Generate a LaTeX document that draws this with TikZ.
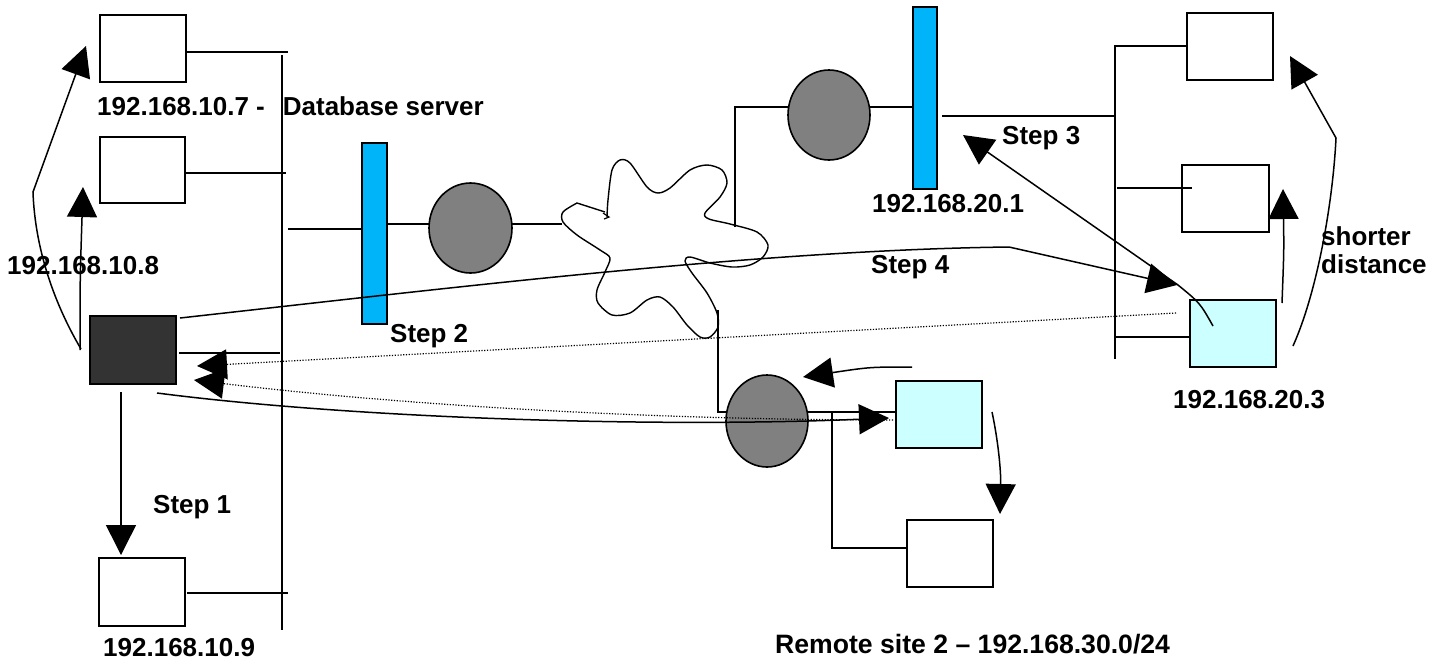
\documentclass[tikz,border=0pt]{standalone}
\usepackage{fontspec}
\setmainfont{Liberation Sans}
\usetikzlibrary{arrows.meta,shapes.geometric}
\definecolor{barblue}{RGB}{0,180,250}
\definecolor{hostcyan}{RGB}{204,255,255}
\definecolor{routergray}{RGB}{128,128,128}
\definecolor{hostdark}{RGB}{51,51,51}

\begin{document}
\begin{tikzpicture}[x=1pt,y=-1pt,
  wire/.style={line width=1.5pt},
  host/.style={draw, line width=1.6pt, rectangle, inner sep=0pt, outer sep=0pt, fill=white},
  router/.style={draw, line width=1.6pt, ellipse, fill=routergray, inner sep=0pt, outer sep=0pt},
  fw/.style={draw, line width=1.6pt, fill=barblue, inner sep=0pt, outer sep=0pt, minimum height=181pt},
  flow/.style={line width=1.5pt, -{Triangle[length=30pt,width=30pt]}},
  trace/.style={line width=1.2pt, dash pattern=on 1.2pt off 1.6pt, -{Triangle[length=30pt,width=30pt]}},
  lbl/.style={font=\bfseries\fontsize{26}{30}\selectfont, inner sep=0pt, anchor=base west}]
\useasboundingbox (0,0) rectangle (1443,662);

% ---------- local site ----------
\node[host, minimum width=86pt, minimum height=67pt] (bA) at (143,48.5) {};
\node[host, minimum width=85pt, minimum height=66pt] (bB) at (142.5,170) {};
\node[host, fill=hostdark, minimum width=86pt, minimum height=68pt] (dark) at (133,350) {};
\node[host, minimum width=86pt, minimum height=68pt] (bC) at (142,592) {};
\coordinate (busLtop) at (282,55);
\coordinate (busLbot) at (282,630);
\draw[wire] (busLtop) -- (busLbot);
\draw[wire] (bA.east |- 0,52) -- (288,52);
\draw[wire] (bB.east |- 0,173) -- (286,173);
\draw[wire] (179,353) -- (280,353);
\draw[wire] (187,593) -- (288,593);

% firewall, router and link to the cloud
\node[fw, minimum width=25pt] (bar1) at (374.5,233.5) {};
\node[router, minimum width=83pt, minimum height=90pt] (c1) at (470.5,228) {};
\draw[wire] (288,229) -- (bar1.west |- 0,229);
\draw[wire] (bar1.east |- 0,224) -- (c1.west |- 0,224);
\draw[wire] (c1.east |- 0,224) -- (562,224);

% ---------- internet cloud ----------
\draw[line width=1.4pt] plot[smooth, tension=0.5] coordinates {
  (607,217) (608,200) (612,170) (620,160) (630,163) (647,187) (658,193)
  (670,188) (690,170) (707,165) (722,170) (727,183) (720,197) (705,213)
  (709,219) (730,224) (757,232) (768,245) (763,257) (750,265) (732,267)
  (710,263) (690,257) (685,261) (692,273) (707,293) (717,313) (718,327)
  (710,337) (700,337) (687,325) (673,307) (660,297) (647,300) (630,313)
  (612,315) (598,303) (597,290) (605,272) (610,258) (600,250) (577,235)
  (563,222) (563,212) (577,203)} -- (605,212);
\draw[line width=1.2pt] (603,213) -- (609,217) -- (604,219);

% ---------- remote site 1 ----------
\node[router, minimum width=82pt, minimum height=90pt] (c2) at (829,115) {};
\node[fw, minimum width=24pt, minimum height=182pt] (bar2) at (925,98) {};
\coordinate (cloudNE) at (735,227);
\draw[wire] (cloudNE) |- (c2.west |- 0,107);
\draw[wire] (c2.east |- 0,107) -- (bar2.west |- 0,107);
\coordinate (busRtop) at (1115,45);
\coordinate (busRbot) at (1115,359);
\draw[wire] (busRtop) -- (busRbot);
\draw[wire] (942,116) -- (busRtop |- 0,116);
\node[host, minimum width=86pt, minimum height=67pt] (R1) at (1230,46.5) {};
\node[host, minimum width=87pt, minimum height=67pt] (R2) at (1225.5,198.5) {};
\node[host, fill=hostcyan, minimum width=86pt, minimum height=67pt] (R3) at (1233,333.5) {};
\draw[wire] (busRtop |- 0,46) -- (R1.west |- 0,46);
\draw[wire] (1117,188) -- (1192,188);
\draw[wire] (busRtop |- 0,337) -- (R3.west |- 0,337);

% ---------- remote site 2 ----------
\node[router, minimum width=82pt, minimum height=92pt] (c3) at (767,421) {};
\node[host, fill=hostcyan, minimum width=86pt, minimum height=67pt] (RC) at (939,414.5) {};
\node[host, minimum width=86pt, minimum height=67pt] (RD) at (950,553.5) {};
\coordinate (cloudS) at (718,310);
\draw[wire] (cloudS) |- (c3.west |- 0,412);
\draw[wire] (c3.east |- 0,412) -- (RC.west |- 0,412);
\coordinate (tapC) at (832,412);
\draw[wire] (tapC) |- (RD.west |- 0,548);

% ---------- traffic ----------
\coordinate (s1a) at (121,392);
\coordinate (s1b) at (121,555);
\draw[flow] (s1a) -- (s1b);
\coordinate (upB) at (80,350);
\draw[flow] (upB) .. controls (80,280) .. (83,187);
\coordinate (upA) at (81,349);
\draw[flow] (upA) .. controls (55,305) and (35,250) .. (33,192) -- (86,46);

\coordinate (s4a) at (180,318);
\draw[flow] (s4a) .. controls (450,288) and (760,250) .. (1009,247) -- (1177,285);
\coordinate (s3a) at (1213,326);
\draw[flow] (s3a) .. controls (1200,303) .. (1178,285) -- (963,135);
\coordinate (s5a) at (157,393);
\draw[flow] (s5a) .. controls (350,418) and (650,428) .. (889,418);
\draw[trace] (1176,313) -- (197,366);
\draw[trace] (893,420) .. controls (650,420) and (400,405) .. (194,380);
\coordinate (backA) at (912,367);
\draw[flow] (backA) .. controls (870,367) .. (803,377);
\coordinate (downA) at (992,412);
\draw[flow] (downA) .. controls (998,440) and (1001,470) .. (1000,514);
\coordinate (upR2) at (1282,303);
\draw[flow] (upR2) .. controls (1284,250) .. (1283,189);
\coordinate (upR1) at (1293,346);
\draw[flow] (upR1) .. controls (1318,290) and (1333,200) .. (1336,138) -- (1290,56);

% ---------- labels ----------
\node[lbl] (tA) at (97,115) {192.168.10.7 -\hspace{18pt}Database server};
\node[lbl] (tB) at (7,274) {192.168.10.8};
\node[lbl] (tC) at (103,656) {192.168.10.9};
\node[lbl] (st1) at (153,513) {Step 1};
\node[lbl] (st2) at (390,342) {Step 2};
\node[lbl] (t201) at (872,212) {192.168.20.1};
\node[lbl] (st3) at (1002,144) {Step 3};
\node[lbl] (st4) at (871,273) {Step 4};
\node[lbl] (tsh) at (1321,245) {shorter};
\node[lbl] (tdist) at (1321,273) {distance};
\node[lbl] (t203) at (1173,408) {192.168.20.3};
\node[lbl, font=\bfseries\fontsize{26.6}{30}\selectfont] (trem) at (775,653) {Remote site 2 – 192.168.30.0/24};
\end{tikzpicture}
\end{document}
